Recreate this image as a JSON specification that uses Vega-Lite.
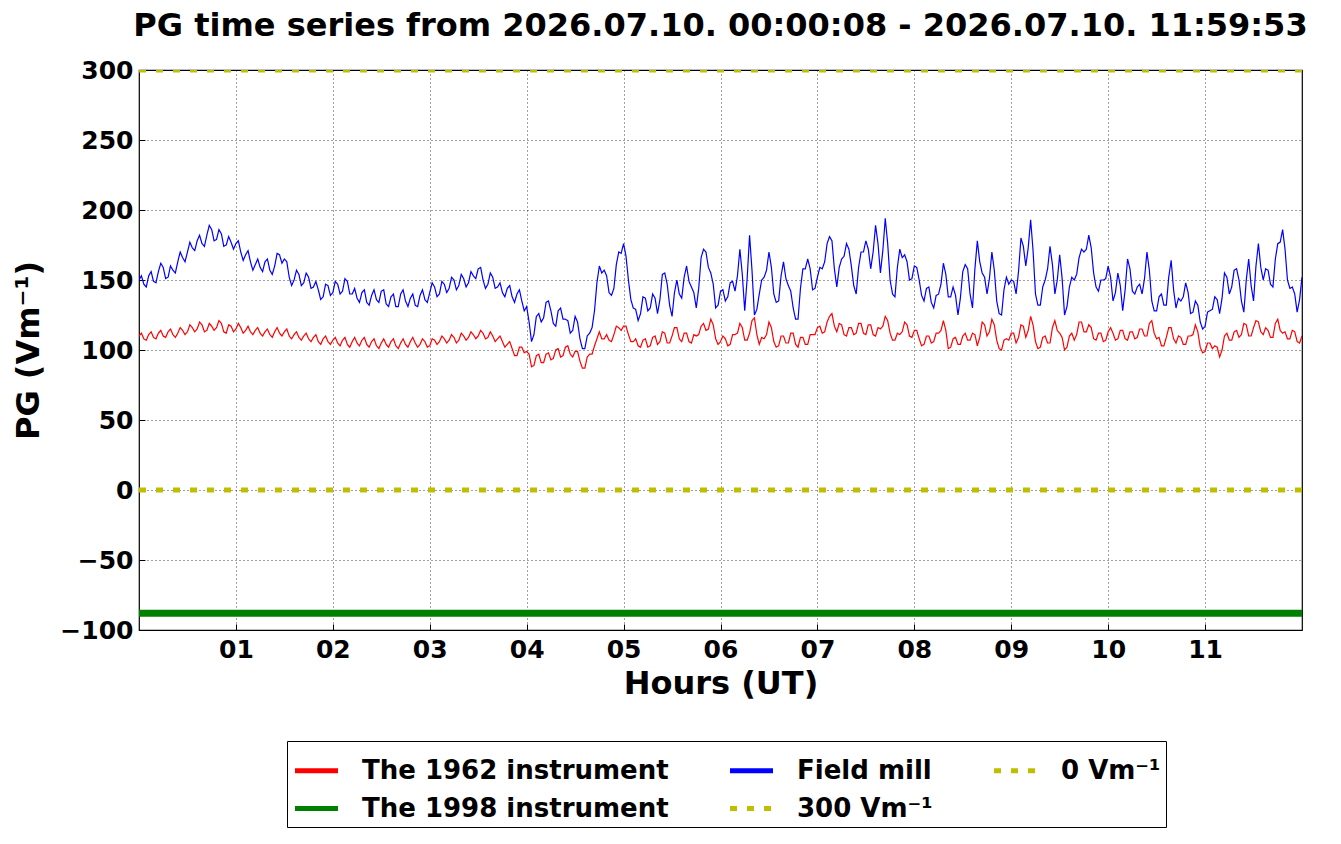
{
  "$schema": "https://vega.github.io/schema/vega-lite/v6.json",
  "width": 1163,
  "height": 560,
  "autosize": "none",
  "padding": {"left": 139, "top": 70, "right": 39, "bottom": 214},
  "background": "white",
  "title": {
    "text": "PG time series from 2026.07.10. 00:00:08 - 2026.07.10. 11:59:53",
    "font": "DejaVu Sans", "fontSize": 32, "fontWeight": "bold", "color": "black",
    "anchor": "middle", "frame": "group", "offset": 15
  },
  "config": {
    "view": {"stroke": "black", "strokeWidth": 1.2},
    "axis": {
      "labelFont": "DejaVu Sans", "labelFontWeight": "bold", "labelFontSize": 25, "labelColor": "black",
      "titleFont": "DejaVu Sans", "titleFontWeight": "bold", "titleFontSize": 32, "titleColor": "black",
      "domain": false, "tickColor": "black", "tickSize": -6, "tickWidth": 1,
      "grid": true, "gridColor": "black", "gridDash": [1, 3], "gridOpacity": 0.75, "gridWidth": 1
    },
    "legend": {
      "labelFont": "DejaVu Sans", "labelFontWeight": "bold", "labelFontSize": 26, "labelColor": "black",
      "labelLimit": 420
    }
  },
  "datasets": {
    "series": [
      {"h":0.00,"r":110,"b":150},{"h":0.05,"r":108,"b":147},{"h":0.10,"r":111,"b":153},{"h":0.15,"r":109,"b":149},
      {"h":0.20,"r":112,"b":156},{"h":0.25,"r":110,"b":159},{"h":0.30,"r":113,"b":152},{"h":0.35,"r":111,"b":157},
      {"h":0.40,"r":112,"b":163},{"h":0.45,"r":114,"b":166},{"h":0.50,"r":113,"b":170},{"h":0.55,"r":116,"b":173},
      {"h":0.60,"r":115,"b":178},{"h":0.65,"r":118,"b":176},{"h":0.70,"r":114,"b":182},{"h":0.75,"r":117,"b":186},
      {"h":0.80,"r":116,"b":179},{"h":0.85,"r":119,"b":183},{"h":0.90,"r":112,"b":175},{"h":0.95,"r":117,"b":177},
      {"h":1.00,"r":115,"b":176},{"h":1.05,"r":116,"b":170},{"h":1.10,"r":114,"b":168},{"h":1.15,"r":113,"b":163},
      {"h":1.20,"r":114,"b":161},{"h":1.25,"r":112,"b":159},{"h":1.30,"r":113,"b":163},{"h":1.35,"r":111,"b":157},
      {"h":1.40,"r":113,"b":160},{"h":1.45,"r":112,"b":168},{"h":1.50,"r":113,"b":165},{"h":1.55,"r":110,"b":152},
      {"h":1.60,"r":111,"b":150},{"h":1.65,"r":109,"b":154},{"h":1.70,"r":110,"b":148},{"h":1.75,"r":108,"b":152},
      {"h":1.80,"r":109,"b":145},{"h":1.85,"r":106,"b":143},{"h":1.90,"r":108,"b":138},{"h":1.95,"r":106,"b":146},
      {"h":2.00,"r":107,"b":141},{"h":2.05,"r":105,"b":147},{"h":2.10,"r":107,"b":142},{"h":2.15,"r":104,"b":149},
      {"h":2.20,"r":106,"b":140},{"h":2.25,"r":105,"b":137},{"h":2.30,"r":107,"b":141},{"h":2.35,"r":104,"b":134},
      {"h":2.40,"r":106,"b":139},{"h":2.45,"r":103,"b":136},{"h":2.50,"r":105,"b":142},{"h":2.55,"r":104,"b":133},
      {"h":2.60,"r":106,"b":138},{"h":2.65,"r":103,"b":131},{"h":2.70,"r":105,"b":140},{"h":2.75,"r":104,"b":135},
      {"h":2.80,"r":106,"b":137},{"h":2.85,"r":105,"b":132},{"h":2.90,"r":104,"b":139},{"h":2.95,"r":106,"b":136},
      {"h":3.00,"r":103,"b":141},{"h":3.05,"r":107,"b":145},{"h":3.10,"r":106,"b":140},{"h":3.15,"r":108,"b":147},
      {"h":3.20,"r":107,"b":144},{"h":3.25,"r":109,"b":150},{"h":3.30,"r":107,"b":146},{"h":3.35,"r":110,"b":151},
      {"h":3.40,"r":109,"b":148},{"h":3.45,"r":111,"b":153},{"h":3.50,"r":110,"b":158},{"h":3.55,"r":112,"b":150},
      {"h":3.60,"r":109,"b":147},{"h":3.65,"r":110,"b":152},{"h":3.70,"r":108,"b":145},{"h":3.75,"r":106,"b":141},
      {"h":3.80,"r":104,"b":144},{"h":3.85,"r":101,"b":138},{"h":3.90,"r":96,"b":140},{"h":3.95,"r":102,"b":135},
      {"h":4.00,"r":99,"b":131},{"h":4.05,"r":88,"b":106},{"h":4.10,"r":96,"b":124},{"h":4.15,"r":91,"b":120},
      {"h":4.20,"r":97,"b":134},{"h":4.25,"r":93,"b":128},{"h":4.30,"r":100,"b":117},{"h":4.35,"r":95,"b":130},
      {"h":4.40,"r":102,"b":122},{"h":4.45,"r":97,"b":112},{"h":4.50,"r":99,"b":124},{"h":4.55,"r":92,"b":108},
      {"h":4.60,"r":87,"b":101},{"h":4.65,"r":97,"b":112},{"h":4.70,"r":103,"b":128},{"h":4.75,"r":113,"b":160},
      {"h":4.80,"r":108,"b":157},{"h":4.85,"r":107,"b":141},{"h":4.90,"r":111,"b":144},{"h":4.95,"r":116,"b":170},
      {"h":5.00,"r":117,"b":176},{"h":5.05,"r":111,"b":150},{"h":5.10,"r":106,"b":130},{"h":5.15,"r":103,"b":121},
      {"h":5.20,"r":107,"b":138},{"h":5.25,"r":102,"b":128},{"h":5.30,"r":109,"b":140},{"h":5.35,"r":104,"b":126},
      {"h":5.40,"r":113,"b":154},{"h":5.45,"r":105,"b":147},{"h":5.50,"r":110,"b":124},{"h":5.55,"r":116,"b":150},
      {"h":5.60,"r":106,"b":137},{"h":5.65,"r":112,"b":160},{"h":5.70,"r":105,"b":145},{"h":5.75,"r":110,"b":130},
      {"h":5.80,"r":117,"b":166},{"h":5.85,"r":114,"b":170},{"h":5.90,"r":122,"b":155},{"h":5.95,"r":108,"b":130},
      {"h":6.00,"r":106,"b":142},{"h":6.05,"r":108,"b":135},{"h":6.10,"r":104,"b":148},{"h":6.15,"r":111,"b":142},
      {"h":6.20,"r":119,"b":172},{"h":6.25,"r":107,"b":128},{"h":6.30,"r":112,"b":182},{"h":6.35,"r":123,"b":125},
      {"h":6.40,"r":104,"b":140},{"h":6.45,"r":108,"b":152},{"h":6.50,"r":120,"b":170},{"h":6.55,"r":106,"b":140},
      {"h":6.60,"r":103,"b":135},{"h":6.65,"r":110,"b":163},{"h":6.70,"r":105,"b":146},{"h":6.75,"r":112,"b":130},
      {"h":6.80,"r":102,"b":122},{"h":6.85,"r":109,"b":158},{"h":6.90,"r":104,"b":165},{"h":6.95,"r":111,"b":143},
      {"h":7.00,"r":116,"b":152},{"h":7.05,"r":112,"b":158},{"h":7.10,"r":120,"b":176},{"h":7.15,"r":126,"b":178},
      {"h":7.20,"r":113,"b":145},{"h":7.25,"r":118,"b":165},{"h":7.30,"r":110,"b":176},{"h":7.35,"r":116,"b":160},
      {"h":7.40,"r":112,"b":140},{"h":7.45,"r":119,"b":170},{"h":7.50,"r":111,"b":178},{"h":7.55,"r":118,"b":158},
      {"h":7.60,"r":110,"b":189},{"h":7.65,"r":115,"b":155},{"h":7.70,"r":124,"b":194},{"h":7.75,"r":112,"b":150},
      {"h":7.80,"r":107,"b":138},{"h":7.85,"r":111,"b":172},{"h":7.90,"r":120,"b":168},{"h":7.95,"r":110,"b":150},
      {"h":8.00,"r":114,"b":160},{"h":8.05,"r":108,"b":150},{"h":8.10,"r":104,"b":135},{"h":8.15,"r":110,"b":145},
      {"h":8.20,"r":106,"b":130},{"h":8.25,"r":112,"b":140},{"h":8.30,"r":121,"b":162},{"h":8.35,"r":101,"b":138},
      {"h":8.40,"r":108,"b":145},{"h":8.45,"r":104,"b":125},{"h":8.50,"r":110,"b":156},{"h":8.55,"r":107,"b":158},
      {"h":8.60,"r":112,"b":130},{"h":8.65,"r":103,"b":178},{"h":8.70,"r":120,"b":155},{"h":8.75,"r":110,"b":140},
      {"h":8.80,"r":122,"b":170},{"h":8.85,"r":107,"b":135},{"h":8.90,"r":100,"b":125},{"h":8.95,"r":108,"b":152},
      {"h":9.00,"r":112,"b":150},{"h":9.05,"r":105,"b":140},{"h":9.10,"r":118,"b":180},{"h":9.15,"r":109,"b":160},
      {"h":9.20,"r":124,"b":193},{"h":9.25,"r":106,"b":140},{"h":9.30,"r":102,"b":132},{"h":9.35,"r":110,"b":150},
      {"h":9.40,"r":105,"b":174},{"h":9.45,"r":121,"b":140},{"h":9.50,"r":112,"b":168},{"h":9.55,"r":100,"b":125},
      {"h":9.60,"r":110,"b":145},{"h":9.65,"r":107,"b":150},{"h":9.70,"r":120,"b":166},{"h":9.75,"r":113,"b":170},
      {"h":9.80,"r":118,"b":182},{"h":9.85,"r":108,"b":155},{"h":9.90,"r":112,"b":142},{"h":9.95,"r":106,"b":150},
      {"h":10.00,"r":113,"b":160},{"h":10.05,"r":112,"b":135},{"h":10.10,"r":108,"b":155},{"h":10.15,"r":114,"b":128},
      {"h":10.20,"r":107,"b":165},{"h":10.25,"r":113,"b":142},{"h":10.30,"r":109,"b":145},{"h":10.35,"r":115,"b":140},
      {"h":10.40,"r":110,"b":170},{"h":10.45,"r":121,"b":135},{"h":10.50,"r":108,"b":128},{"h":10.55,"r":103,"b":140},
      {"h":10.60,"r":109,"b":132},{"h":10.65,"r":116,"b":164},{"h":10.70,"r":105,"b":130},{"h":10.75,"r":109,"b":135},
      {"h":10.80,"r":104,"b":148},{"h":10.85,"r":110,"b":126},{"h":10.90,"r":118,"b":135},{"h":10.95,"r":102,"b":120},
      {"h":11.00,"r":99,"b":117},{"h":11.05,"r":105,"b":128},{"h":11.10,"r":103,"b":138},{"h":11.15,"r":95,"b":126},
      {"h":11.20,"r":110,"b":155},{"h":11.25,"r":107,"b":140},{"h":11.30,"r":113,"b":157},{"h":11.35,"r":109,"b":150},
      {"h":11.40,"r":119,"b":127},{"h":11.45,"r":110,"b":165},{"h":11.50,"r":116,"b":135},{"h":11.55,"r":120,"b":176},
      {"h":11.60,"r":111,"b":150},{"h":11.65,"r":114,"b":157},{"h":11.70,"r":109,"b":145},{"h":11.75,"r":122,"b":176},
      {"h":11.80,"r":112,"b":186},{"h":11.85,"r":108,"b":150},{"h":11.90,"r":114,"b":145},{"h":11.95,"r":106,"b":127},
      {"h":12.00,"r":110,"b":152},
      {"h":0.025,"r":112,"b":153},{"h":0.075,"r":107,"b":145},{"h":0.125,"r":113,"b":156},{"h":0.175,"r":108,"b":148},
      {"h":0.225,"r":114,"b":162},{"h":0.275,"r":109,"b":151},{"h":0.325,"r":115,"b":160},{"h":0.375,"r":109,"b":155},
      {"h":0.425,"r":116,"b":170},{"h":0.475,"r":111,"b":163},{"h":0.525,"r":118,"b":177},{"h":0.575,"r":113,"b":171},
      {"h":0.625,"r":120,"b":182},{"h":0.675,"r":113,"b":174},{"h":0.725,"r":119,"b":189},{"h":0.775,"r":114,"b":178},
      {"h":0.825,"r":121,"b":186},{"h":0.875,"r":113,"b":174},{"h":0.925,"r":118,"b":181},{"h":0.975,"r":113,"b":172},
      {"h":1.025,"r":119,"b":178},{"h":1.075,"r":112,"b":164},{"h":1.125,"r":117,"b":171},{"h":1.175,"r":111,"b":157},
      {"h":1.225,"r":116,"b":165},{"h":1.275,"r":110,"b":156},{"h":1.325,"r":115,"b":165},{"h":1.375,"r":109,"b":154},
      {"h":1.425,"r":116,"b":169},{"h":1.475,"r":110,"b":162},{"h":1.525,"r":115,"b":163},{"h":1.575,"r":108,"b":146},
      {"h":1.625,"r":113,"b":157},{"h":1.675,"r":107,"b":146},{"h":1.725,"r":112,"b":155},{"h":1.775,"r":106,"b":144},
      {"h":1.825,"r":111,"b":149},{"h":1.875,"r":104,"b":136},{"h":1.925,"r":110,"b":147},{"h":1.975,"r":104,"b":139},
      {"h":2.025,"r":109,"b":149},{"h":2.075,"r":103,"b":140},{"h":2.125,"r":109,"b":151},{"h":2.175,"r":102,"b":140},
      {"h":2.225,"r":109,"b":144},{"h":2.275,"r":103,"b":134},{"h":2.325,"r":109,"b":143},{"h":2.375,"r":102,"b":132},
      {"h":2.425,"r":108,"b":143},{"h":2.475,"r":101,"b":134},{"h":2.525,"r":108,"b":143},{"h":2.575,"r":102,"b":131},
      {"h":2.625,"r":108,"b":140},{"h":2.675,"r":101,"b":131},{"h":2.725,"r":108,"b":143},{"h":2.775,"r":102,"b":131},
      {"h":2.825,"r":109,"b":140},{"h":2.875,"r":102,"b":131},{"h":2.925,"r":108,"b":143},{"h":2.975,"r":102,"b":134},
      {"h":3.025,"r":108,"b":148},{"h":3.075,"r":104,"b":138},{"h":3.125,"r":110,"b":149},{"h":3.175,"r":105,"b":141},
      {"h":3.225,"r":111,"b":152},{"h":3.275,"r":105,"b":143},{"h":3.325,"r":112,"b":154},{"h":3.375,"r":107,"b":145},
      {"h":3.425,"r":113,"b":156},{"h":3.475,"r":108,"b":151},{"h":3.525,"r":114,"b":159},{"h":3.575,"r":108,"b":144},
      {"h":3.625,"r":113,"b":155},{"h":3.675,"r":106,"b":144},{"h":3.725,"r":110,"b":148},{"h":3.775,"r":102,"b":138},
      {"h":3.825,"r":106,"b":146},{"h":3.875,"r":96,"b":134},{"h":3.925,"r":102,"b":143},{"h":3.975,"r":98,"b":128},
      {"h":4.025,"r":97,"b":120},{"h":4.075,"r":89,"b":111},{"h":4.125,"r":97,"b":126},{"h":4.175,"r":91,"b":123},
      {"h":4.225,"r":98,"b":135},{"h":4.275,"r":94,"b":119},{"h":4.325,"r":101,"b":128},{"h":4.375,"r":96,"b":122},
      {"h":4.425,"r":103,"b":121},{"h":4.475,"r":95,"b":114},{"h":4.525,"r":99,"b":120},{"h":4.575,"r":87,"b":101},
      {"h":4.625,"r":95,"b":110},{"h":4.675,"r":97,"b":116},{"h":4.725,"r":108,"b":148},{"h":4.775,"r":108,"b":155},
      {"h":4.825,"r":111,"b":153},{"h":4.875,"r":106,"b":139},{"h":4.925,"r":117,"b":161},{"h":4.975,"r":114,"b":169},
      {"h":5.025,"r":117,"b":167},{"h":5.075,"r":106,"b":136},{"h":5.125,"r":108,"b":129},{"h":5.175,"r":102,"b":126},
      {"h":5.225,"r":108,"b":137},{"h":5.275,"r":103,"b":130},{"h":5.325,"r":110,"b":137},{"h":5.375,"r":106,"b":136},
      {"h":5.425,"r":112,"b":155},{"h":5.475,"r":105,"b":132},{"h":5.525,"r":116,"b":141},{"h":5.575,"r":108,"b":140},
      {"h":5.625,"r":112,"b":152},{"h":5.675,"r":106,"b":149},{"h":5.725,"r":111,"b":141},{"h":5.775,"r":111,"b":144},
      {"h":5.825,"r":119,"b":172},{"h":5.875,"r":115,"b":159},{"h":5.925,"r":118,"b":147},{"h":5.975,"r":104,"b":132},
      {"h":6.025,"r":110,"b":143},{"h":6.075,"r":103,"b":138},{"h":6.125,"r":111,"b":149},{"h":6.175,"r":112,"b":153},
      {"h":6.225,"r":116,"b":154},{"h":6.275,"r":107,"b":151},{"h":6.325,"r":121,"b":157},{"h":6.375,"r":111,"b":129},
      {"h":6.425,"r":109,"b":150},{"h":6.475,"r":111,"b":157},{"h":6.525,"r":116,"b":159},{"h":6.575,"r":102,"b":134},
      {"h":6.625,"r":110,"b":153},{"h":6.675,"r":105,"b":151},{"h":6.725,"r":112,"b":142},{"h":6.775,"r":104,"b":122},
      {"h":6.825,"r":109,"b":144},{"h":6.875,"r":104,"b":158},{"h":6.925,"r":111,"b":158},{"h":6.975,"r":111,"b":144},
      {"h":7.025,"r":117,"b":159},{"h":7.075,"r":113,"b":163},{"h":7.125,"r":124,"b":181},{"h":7.175,"r":117,"b":158},
      {"h":7.225,"r":119,"b":159},{"h":7.275,"r":111,"b":167},{"h":7.325,"r":116,"b":172},{"h":7.375,"r":111,"b":146},
      {"h":7.425,"r":119,"b":159},{"h":7.475,"r":112,"b":170},{"h":7.525,"r":118,"b":172},{"h":7.575,"r":111,"b":170},
      {"h":7.625,"r":116,"b":176},{"h":7.675,"r":117,"b":171},{"h":7.725,"r":121,"b":176},{"h":7.775,"r":107,"b":140},
      {"h":7.825,"r":112,"b":159},{"h":7.875,"r":113,"b":166},{"h":7.925,"r":118,"b":163},{"h":7.975,"r":109,"b":151},
      {"h":8.025,"r":114,"b":159},{"h":8.075,"r":103,"b":139},{"h":8.125,"r":110,"b":144},{"h":8.175,"r":105,"b":134},
      {"h":8.225,"r":112,"b":139},{"h":8.275,"r":114,"b":147},{"h":8.325,"r":114,"b":154},{"h":8.375,"r":102,"b":138},
      {"h":8.425,"r":109,"b":139},{"h":8.475,"r":104,"b":137},{"h":8.525,"r":112,"b":161},{"h":8.575,"r":107,"b":140},
      {"h":8.625,"r":111,"b":158},{"h":8.675,"r":109,"b":163},{"h":8.725,"r":118,"b":152},{"h":8.775,"r":113,"b":151},
      {"h":8.825,"r":118,"b":157},{"h":8.875,"r":101,"b":126},{"h":8.925,"r":107,"b":143},{"h":8.975,"r":107,"b":147},
      {"h":9.025,"r":112,"b":149},{"h":9.075,"r":109,"b":156},{"h":9.125,"r":117,"b":174},{"h":9.175,"r":114,"b":173},
      {"h":9.225,"r":118,"b":171},{"h":9.275,"r":101,"b":132},{"h":9.325,"r":109,"b":145},{"h":9.375,"r":105,"b":158},
      {"h":9.425,"r":116,"b":161},{"h":9.475,"r":114,"b":150},{"h":9.525,"r":109,"b":151},{"h":9.575,"r":102,"b":131},
      {"h":9.625,"r":112,"b":152},{"h":9.675,"r":111,"b":154},{"h":9.725,"r":120,"b":172},{"h":9.775,"r":113,"b":172},
      {"h":9.825,"r":116,"b":173},{"h":9.875,"r":107,"b":145},{"h":9.925,"r":112,"b":150},{"h":9.975,"r":107,"b":151},
      {"h":10.025,"r":116,"b":152},{"h":10.075,"r":107,"b":141},{"h":10.125,"r":114,"b":146},{"h":10.175,"r":108,"b":143},
      {"h":10.225,"r":113,"b":158},{"h":10.275,"r":108,"b":140},{"h":10.325,"r":115,"b":147},{"h":10.375,"r":110,"b":151},
      {"h":10.425,"r":119,"b":157},{"h":10.475,"r":112,"b":128},{"h":10.525,"r":109,"b":138},{"h":10.575,"r":103,"b":132},
      {"h":10.625,"r":116,"b":152},{"h":10.675,"r":108,"b":143},{"h":10.725,"r":110,"b":137},{"h":10.775,"r":104,"b":138},
      {"h":10.825,"r":110,"b":141},{"h":10.875,"r":111,"b":127},{"h":10.925,"r":113,"b":132},{"h":10.975,"r":98,"b":115},
      {"h":11.025,"r":105,"b":127},{"h":11.075,"r":101,"b":129},{"h":11.125,"r":102,"b":136},{"h":11.175,"r":100,"b":137},
      {"h":11.225,"r":112,"b":152},{"h":11.275,"r":107,"b":145},{"h":11.325,"r":114,"b":158},{"h":11.375,"r":111,"b":135},
      {"h":11.425,"r":118,"b":150},{"h":11.475,"r":110,"b":146},{"h":11.525,"r":121,"b":160},{"h":11.575,"r":113,"b":159},
      {"h":11.625,"r":116,"b":158},{"h":11.675,"r":109,"b":147},{"h":11.725,"r":119,"b":165},{"h":11.775,"r":114,"b":177},
      {"h":11.825,"r":113,"b":172},{"h":11.875,"r":108,"b":144},{"h":11.925,"r":113,"b":140},{"h":11.975,"r":105,"b":136}
    ],
    "constants": [
      {"s":"g","h":0,"v":-88},{"s":"g","h":12,"v":-88},
      {"s":"z","h":0,"v":0},{"s":"z","h":12,"v":0},
      {"s":"t","h":0,"v":300},{"s":"t","h":12,"v":300}
    ]
  },
  "encoding": {
    "x": {
      "field": "h", "type": "quantitative",
      "scale": {"domain": [0, 12], "nice": false, "zero": false},
      "axis": {
        "title": "Hours (UT)", "values": [1,2,3,4,5,6,7,8,9,10,11],
        "labelExpr": "(datum.value < 10 ? '0' : '') + datum.value",
        "labelPadding": 13, "titlePadding": 6
      }
    },
    "y": {
      "field": "v", "type": "quantitative",
      "scale": {"domain": [-100, 300], "nice": false, "zero": false},
      "axis": {
        "title": "PG (Vm⁻¹)", "values": [-100,-50,0,50,100,150,200,250,300],
        "labelPadding": 12, "titlePadding": 14
      }
    },
    "color": {
      "field": "s", "type": "nominal",
      "scale": {
        "domain": ["r","b","z","g","t"],
        "range": ["#ff0000","#0000ff","#bfbf00","#008000","#bfbf00"]
      },
      "legend": {
        "title": null, "orient": "none", "legendX": 148, "legendY": 671,
        "direction": "horizontal", "columns": 3,
        "symbolType": "stroke", "symbolSize": 1850, "symbolStrokeWidth": 5,
        "labelOffset": 21, "columnPadding": 50, "rowPadding": -2,
        "strokeColor": "black", "padding": 5, "fillColor": "white",
        "labelExpr": "datum.label == 'r' ? 'The 1962 instrument' : datum.label == 'b' ? 'Field mill' : datum.label == 'z' ? '0 Vm⁻¹' : datum.label == 'g' ? 'The 1998 instrument' : '300 Vm⁻¹'"
      }
    },
    "strokeDash": {
      "field": "s", "type": "nominal",
      "scale": {
        "domain": ["r","b","z","g","t"],
        "range": [[1,0],[1,0],[7,10],[1,0],[7,10]]
      },
      "legend": {
        "title": null, "orient": "none", "legendX": 148, "legendY": 671,
        "direction": "horizontal", "columns": 3,
        "symbolType": "stroke", "symbolSize": 1850, "symbolStrokeWidth": 5,
        "labelOffset": 21, "columnPadding": 50, "rowPadding": -2,
        "strokeColor": "black", "padding": 5, "fillColor": "white",
        "labelExpr": "datum.label == 'r' ? 'The 1962 instrument' : datum.label == 'b' ? 'Field mill' : datum.label == 'z' ? '0 Vm⁻¹' : datum.label == 'g' ? 'The 1998 instrument' : '300 Vm⁻¹'"
      }
    }
  },
  "layer": [
    {
      "data": {"name": "series"},
      "transform": [{"fold": ["r", "b"], "as": ["s", "v"]}],
      "mark": {"type": "line", "strokeWidth": 1.2, "clip": true}
    },
    {
      "data": {"name": "constants"},
      "transform": [{"filter": "datum.s == 'g'"}],
      "mark": {"type": "line", "strokeWidth": 7, "clip": true}
    },
    {
      "data": {"name": "constants"},
      "transform": [{"filter": "datum.s != 'g'"}],
      "mark": {"type": "line", "strokeWidth": 5, "strokeCap": "butt", "clip": true}
    }
  ]
}
